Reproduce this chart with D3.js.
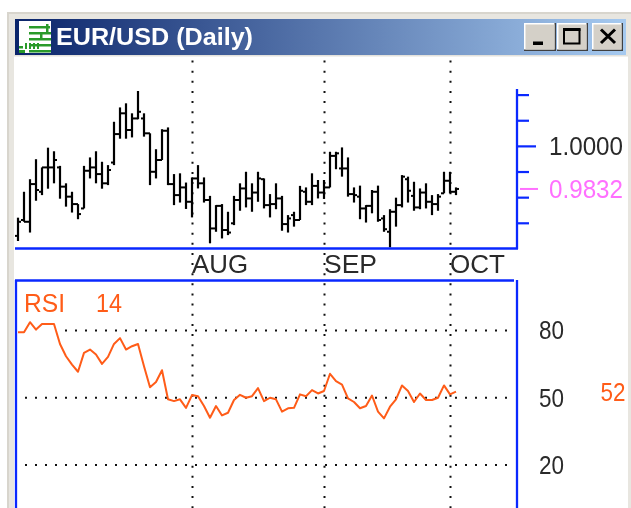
<!DOCTYPE html>
<html><head><meta charset="utf-8">
<script src="https://cdn.jsdelivr.net/npm/d3@7/dist/d3.min.js"></script>
<style>html,body{margin:0;padding:0;background:#fff;overflow:hidden}svg{display:block;filter:blur(0.3px)}text{font-family:"Liberation Sans",Arial,sans-serif}</style>
</head><body><svg id="c" width="631" height="508"></svg>
<script>
const title = "EUR/USD (Daily)";
const high = [.9720,.9821,.9870,.9948,.9916,.9993,.9979,.9922,.9854,.9821,.9773,.9922,.9955,.9979,.9938,.9925,1.0094,1.0150,1.0166,1.0127,1.0214,1.0127,1.0049,.9987,1.0065,1.0072,.9890,.9893,.9857,.9877,.9925,.9877,.9805,.9769,.9773,.9743,.9805,.9854,.9899,.9854,.9899,.9873,.9812,.9854,.9805,.9730,.9743,.9844,.9838,.9893,.9867,.9867,.9977,.9977,.9994,.9955,.9838,.9845,.9769,.9828,.9845,.9730,.9753,.9798,.9886,.9880,.9860,.9834,.9854,.9808,.9812,.9899,.9899,.9838];
const low = [.9629,.9704,.9662,.9786,.9808,.9833,.9854,.9794,.9763,.9740,.9714,.9756,.9873,.9854,.9833,.9847,.9925,1.0028,1.0028,1.0033,1.0104,1.0036,.9847,.9873,.9945,.9847,.9769,.9779,.9754,.9721,.9834,.9779,.9620,.9665,.9639,.9652,.9691,.9747,.9760,.9743,.9782,.9756,.9721,.9753,.9669,.9662,.9685,.9711,.9769,.9769,.9795,.9793,.9838,.9909,.9880,.9802,.9779,.9714,.9701,.9737,.9704,.9665,.9604,.9685,.9760,.9779,.9747,.9753,.9756,.9730,.9747,.9815,.9815,.9808];
const open = [.9649,.9711,.9704,.9851,.9821,.9916,.9916,.9916,.9841,.9802,.9773,.9756,.9903,.9916,.9890,.9854,.9935,1.0046,1.0127,1.0062,1.0107,1.0107,1.0049,.9899,.9945,1.0059,.9851,.9808,.9838,.9782,.9873,.9854,.9789,.9678,.9766,.9672,.9698,.9789,.9834,.9795,.9818,.9870,.9769,.9773,.9795,.9695,.9730,.9711,.9821,.9782,.9844,.9818,.9838,.9961,.9912,.9912,.9812,.9802,.9756,.9766,.9821,.9717,.9665,.9743,.9769,.9870,.9805,.9760,.9818,.9782,.9773,.9815,.9864,.9821];
const close = [.9704,.9704,.9851,.9828,.9916,.9916,.9945,.9841,.9802,.9773,.9734,.9903,.9916,.9890,.9854,.9906,1.0046,1.0127,1.0062,1.0107,1.0133,1.0049,.9899,.9945,1.0059,.9851,.9808,.9838,.9782,.9873,.9854,.9789,.9678,.9766,.9672,.9662,.9789,.9834,.9795,.9818,.9873,.9769,.9773,.9795,.9695,.9717,.9711,.9825,.9782,.9844,.9818,.9838,.9961,.9971,.9912,.9812,.9808,.9756,.9766,.9821,.9711,.9675,.9743,.9769,.9880,.9825,.9760,.9818,.9782,.9773,.9802,.9864,.9821,.9832];
const rsi = [79.2,79.2,83.7,80.4,82.9,82.9,82.9,74.0,68.5,64.8,61.6,70.0,71.5,69.3,65.1,68.2,74.0,76.6,71.5,73.0,74.0,64.1,54.7,57.0,62.3,49.3,48.5,49.3,45.5,51.2,50.7,46.3,41.1,46.3,42.1,43.3,49.0,51.3,50.0,50.7,54.3,48.5,50.0,49.3,43.8,45.3,45.5,51.5,50.7,53.4,51.9,53.0,60.7,57.4,55.9,49.7,48.1,45.3,46.3,51.0,43.8,40.8,46.0,49.3,55.5,53.0,48.1,51.9,49.0,49.0,50.0,55.5,51.5,52.7];
const monthLabels = ["AUG","SEP","OCT"];
const monthIndex = [29,51,72];
const priceTicks = [1.02,1.01,1.00,.99,.98,.97];
const majorPrice = 1.00;
const lastPrice = 0.9832;
const rsiTicks = [80,50,20];
const rsiLast = 52;

const blue="#0a28ff", orange="#ff5c18", pink="#ff70ff", ink="#2a2a2a", dot="#111";
const svg=d3.select("#c");
const fs=26;

// window chrome
svg.append("rect").attr("x",7).attr("y",12).attr("width",624).attr("height",496).attr("fill","#d8d5cd");
svg.append("rect").attr("x",9).attr("y",14).attr("width",622).attr("height",494).attr("fill","#e8e6e0");
svg.append("rect").attr("x",14).attr("y",55).attr("width",614).attr("height",453).attr("fill","#fff");
const defs=svg.append("defs");
const g=defs.append("linearGradient").attr("id","tb");
g.append("stop").attr("offset","0").attr("stop-color","#0a246a");
g.append("stop").attr("offset","1").attr("stop-color","#a6caf0");
svg.append("rect").attr("x",15).attr("y",19).attr("width",611).attr("height",36).attr("fill","url(#tb)");
svg.append("rect").attr("x",14).attr("y",55).attr("width",614).attr("height",1.5).attr("fill","#e4e2dc");
svg.append("text").attr("x",56).attr("y",45).attr("fill","#fff").attr("font-weight","bold").attr("font-size",24)
  .attr("textLength",197).attr("lengthAdjust","spacingAndGlyphs").text(title);

// icon
const ic=svg.append("g").attr("fill","#2a9a2a");
ic.append("rect").attr("x",19).attr("y",21).attr("width",32).attr("height",32).attr("fill","#fff");
[[29,26,21,2.5],[29,32,22,2.5],[29,38,22,2.5],[29,44,22,2.5],[29,50,22,2.5],[40,32,2.5,8],[46,24,2.5,8],[25,43,2,6],[29,43,2,6],[33,43,2,6],[37,43,2,6],[19,46,4,2.5],[19,50,6,3]]
  .forEach(r=>ic.append("rect").attr("x",r[0]).attr("y",r[1]).attr("width",r[2]).attr("height",r[3]));

// buttons
function btn(x,w){
  svg.append("rect").attr("x",x).attr("y",23).attr("width",w).attr("height",28).attr("fill","#404040");
  svg.append("rect").attr("x",x).attr("y",23).attr("width",w-1.5).attr("height",26.5).attr("fill","#fff");
  svg.append("rect").attr("x",x+1.5).attr("y",24.5).attr("width",w-3).attr("height",25).attr("fill","#d4d0c8");
}
btn(524,32);btn(557,31);btn(592,31);
svg.append("rect").attr("x",533).attr("y",41.5).attr("width",10).attr("height",3.5).attr("fill","#000");
svg.append("rect").attr("x",564).attr("y",29.5).attr("width",15.5).attr("height",14).attr("fill","none").attr("stroke","#000").attr("stroke-width",2);
svg.append("rect").attr("x",563).attr("y",28).attr("width",17.5).attr("height",3).attr("fill","#000");
svg.append("path").attr("d","M601 29.5L615 43M615 29.5L601 43").attr("stroke","#000").attr("stroke-width",3).attr("fill","none");

// scales
const x=d3.scaleLinear().domain([0,73]).range([18,456]);
const y=d3.scaleLinear().domain([.97,1.02]).range([222.8,94.6]);
const yr=d3.scaleLinear().domain([20,80]).range([465,330.5]);

// dotted grid
svg.append("g").selectAll("line").data(monthIndex).join("line")
  .attr("x1",d=>x(d)+.5).attr("x2",d=>x(d)+.5).attr("y1",60.5).attr("y2",508)
  .attr("stroke",dot).attr("stroke-width",2).attr("stroke-dasharray","2 8.13");
svg.append("g").selectAll("line").data(rsiTicks).join("line")
  .attr("x1",d=>d===80?65:15).attr("x2",508).attr("y1",d=>yr(d)).attr("y2",d=>yr(d))
  .attr("stroke",dot).attr("stroke-width",2).attr("stroke-dasharray","2 8");

// month labels
const monthWidths=[56,53,55];
svg.append("g").selectAll("text").data(monthLabels).join("text")
  .attr("x",(d,i)=>x(monthIndex[i])).attr("y",273).attr("font-size",26).attr("fill",ink)
  .attr("textLength",(d,i)=>monthWidths[i]).attr("lengthAdjust","spacingAndGlyphs").text(d=>d);

// OHLC bars
const bars=svg.append("g").attr("stroke","#000").attr("fill","none");
bars.selectAll("line.s").data(high).join("line").attr("class","s")
  .attr("x1",(d,i)=>x(i)).attr("x2",(d,i)=>x(i)).attr("y1",d=>y(d)).attr("y2",(d,i)=>y(low[i])).attr("stroke-width",2.2);
bars.selectAll("line.o").data(open).join("line").attr("class","o")
  .attr("x1",(d,i)=>x(i)-3).attr("x2",(d,i)=>x(i)).attr("y1",d=>y(d)).attr("y2",d=>y(d)).attr("stroke-width",2);
bars.selectAll("line.c").data(close).join("line").attr("class","c")
  .attr("x1",(d,i)=>x(i)).attr("x2",(d,i)=>x(i)+3).attr("y1",d=>y(d)).attr("y2",d=>y(d)).attr("stroke-width",2);

// blue frames
const frame=svg.append("g").attr("stroke",blue).attr("stroke-width",2.3).attr("fill","none");
frame.append("line").attr("x1",15).attr("x2",518).attr("y1",248.5).attr("y2",248.5);
frame.append("line").attr("x1",517).attr("x2",517).attr("y1",89).attr("y2",249);
frame.append("line").attr("x1",15).attr("x2",514).attr("y1",280.5).attr("y2",280.5);
frame.append("line").attr("x1",16).attr("x2",16).attr("y1",280).attr("y2",508);
frame.append("line").attr("x1",517).attr("x2",517).attr("y1",280).attr("y2",508);

// price axis
const pa=svg.append("g").attr("transform","translate(517,0)")
  .call(d3.axisRight(y).tickValues(priceTicks).tickSize(12).tickPadding(20)
    .tickFormat(d=>d===majorPrice?d3.format(".4f")(d):""));
pa.select(".domain").remove();
pa.selectAll("line").attr("stroke",blue).attr("stroke-width",2.2).attr("x2",d=>d===majorPrice?19:12);
pa.selectAll("text").attr("x",32).attr("font-size",fs).attr("font-family","Liberation Sans").attr("fill",ink)
  .attr("textLength",d=>d===majorPrice?74:null).attr("lengthAdjust","spacingAndGlyphs");

// last price marker
svg.append("line").attr("x1",520).attr("x2",538).attr("y1",y(lastPrice)).attr("y2",y(lastPrice)).attr("stroke",pink).attr("stroke-width",2);
svg.append("text").attr("x",549).attr("y",y(lastPrice)).attr("dy",".36em").attr("font-size",fs).attr("fill",pink)
  .attr("textLength",74).attr("lengthAdjust","spacingAndGlyphs").text(d3.format(".4f")(lastPrice));

// RSI
svg.append("path").datum(rsi).attr("fill","none").attr("stroke",orange).attr("stroke-width",2).attr("stroke-linejoin","round")
  .attr("d",d3.line().x((d,i)=>x(i)).y(d=>yr(d)));
svg.append("text").attr("x",24).attr("y",312).attr("font-size",fs).attr("fill",orange)
  .attr("textLength",41).attr("lengthAdjust","spacingAndGlyphs").text("RSI");
svg.append("text").attr("x",96).attr("y",312).attr("font-size",fs).attr("fill",orange)
  .attr("textLength",26).attr("lengthAdjust","spacingAndGlyphs").text("14");
const ra=svg.append("g").attr("transform","translate(517,0)")
  .call(d3.axisRight(yr).tickValues(rsiTicks).tickSize(0).tickPadding(22));
ra.select(".domain").remove();
ra.selectAll("text").attr("font-size",fs).attr("font-family","Liberation Sans").attr("fill",ink)
  .attr("textLength",25).attr("lengthAdjust","spacingAndGlyphs");
svg.append("text").attr("x",600.5).attr("y",401).attr("font-size",fs).attr("fill",orange)
  .attr("textLength",25).attr("lengthAdjust","spacingAndGlyphs").text(rsiLast);
</script></body></html>
